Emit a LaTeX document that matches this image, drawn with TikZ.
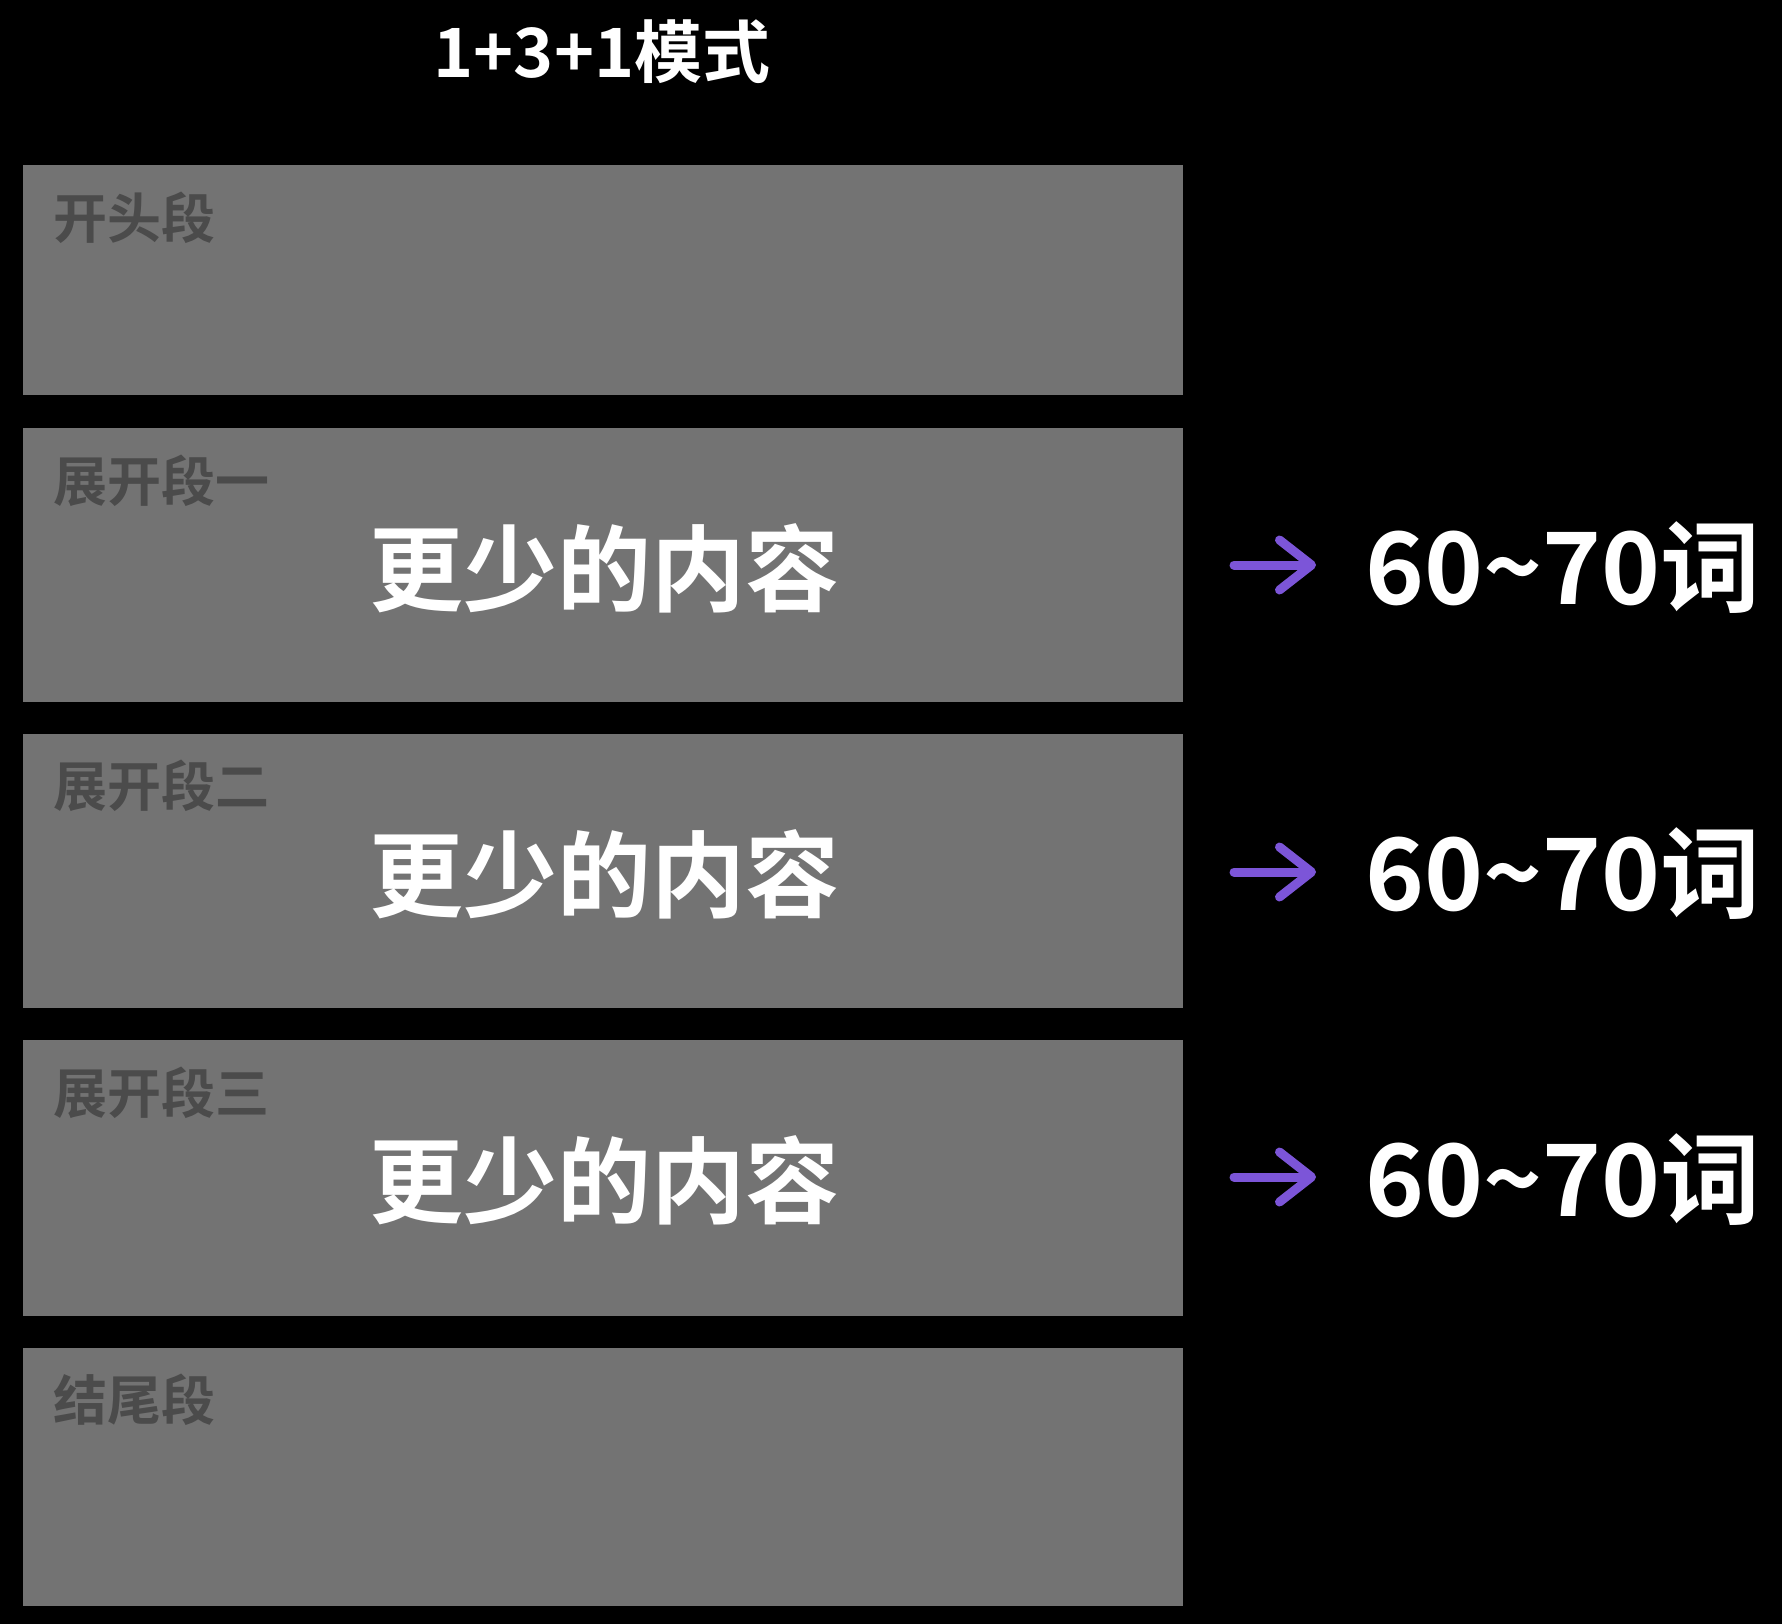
\documentclass[tikz,border=0pt]{standalone}
\usepackage{fontspec}
\setmainfont{Noto Sans CJK SC}[BoldFont={Noto Sans CJK SC Bold}]
\usetikzlibrary{arrows.meta}
\definecolor{boxgray}{HTML}{737373}
\definecolor{labgray}{HTML}{4B4B4B}
\definecolor{arrpurple}{HTML}{7C55D8}
\tikzset{
  seg/.style={fill=boxgray, draw=none, anchor=north west, minimum width=1160pt, inner sep=0pt, outer sep=0pt},
  lab/.style={text=labgray, anchor=west, inner sep=0pt, font=\bfseries\fontsize{54}{54}\selectfont},
  big/.style={text=white, anchor=center, inner sep=0pt, font=\bfseries\fontsize{94}{94}\selectfont},
  cnt/.style={text=white, anchor=center, inner sep=0pt, font=\bfseries\fontsize{100}{100}\selectfont},
  ttl/.style={text=white, anchor=center, inner sep=0pt, font=\bfseries\fontsize{68}{68}\selectfont},
  arr/.style={draw=arrpurple, line width=9pt, line cap=round, -{Straight Barb[length=32pt,width=50pt,line width=9pt,round]}}
}
\begin{document}
\begin{tikzpicture}[x=1pt,y=-1pt]
\fill[black] (0,0) rectangle (1782,1624);
\useasboundingbox (0,0) rectangle (1782,1624);
\node[ttl] (title) at (602,52) {1+3+1模式};
\node[seg, minimum height=230pt] (b1) at (23,165) {};
\node[seg, minimum height=274pt] (b2) at (23,428) {};
\node[seg, minimum height=274pt] (b3) at (23,734) {};
\node[seg, minimum height=276pt] (b4) at (23,1040) {};
\node[seg, minimum height=258pt] (b5) at (23,1348) {};
\node[lab] (l1) at (53,218) {开头段};
\node[lab] (l2) at (53,481) {展开段一};
\node[lab] (l3) at (53,786) {展开段二};
\node[lab] (l4) at (53,1093) {展开段三};
\node[lab] (l5) at (53,1400) {结尾段};
\node[big] (t2) at (604,568) {更少的内容};
\node[big] (t3) at (604,874) {更少的内容};
\node[big] (t4) at (604,1180) {更少的内容};
\node[cnt] (n2) at (1563,568) {60\char"7E 70词};
\node[cnt] (n3) at (1563,874) {60\char"7E 70词};
\node[cnt] (n4) at (1563,1180) {60\char"7E 70词};
\coordinate (s2) at (1234,565); \coordinate (e2) at (1316,565);
\coordinate (s3) at (1234,872); \coordinate (e3) at (1316,872);
\coordinate (s4) at (1234,1177); \coordinate (e4) at (1316,1177);
\draw[arr] (s2) -- (e2);
\draw[arr] (s3) -- (e3);
\draw[arr] (s4) -- (e4);
\end{tikzpicture}
\end{document}
